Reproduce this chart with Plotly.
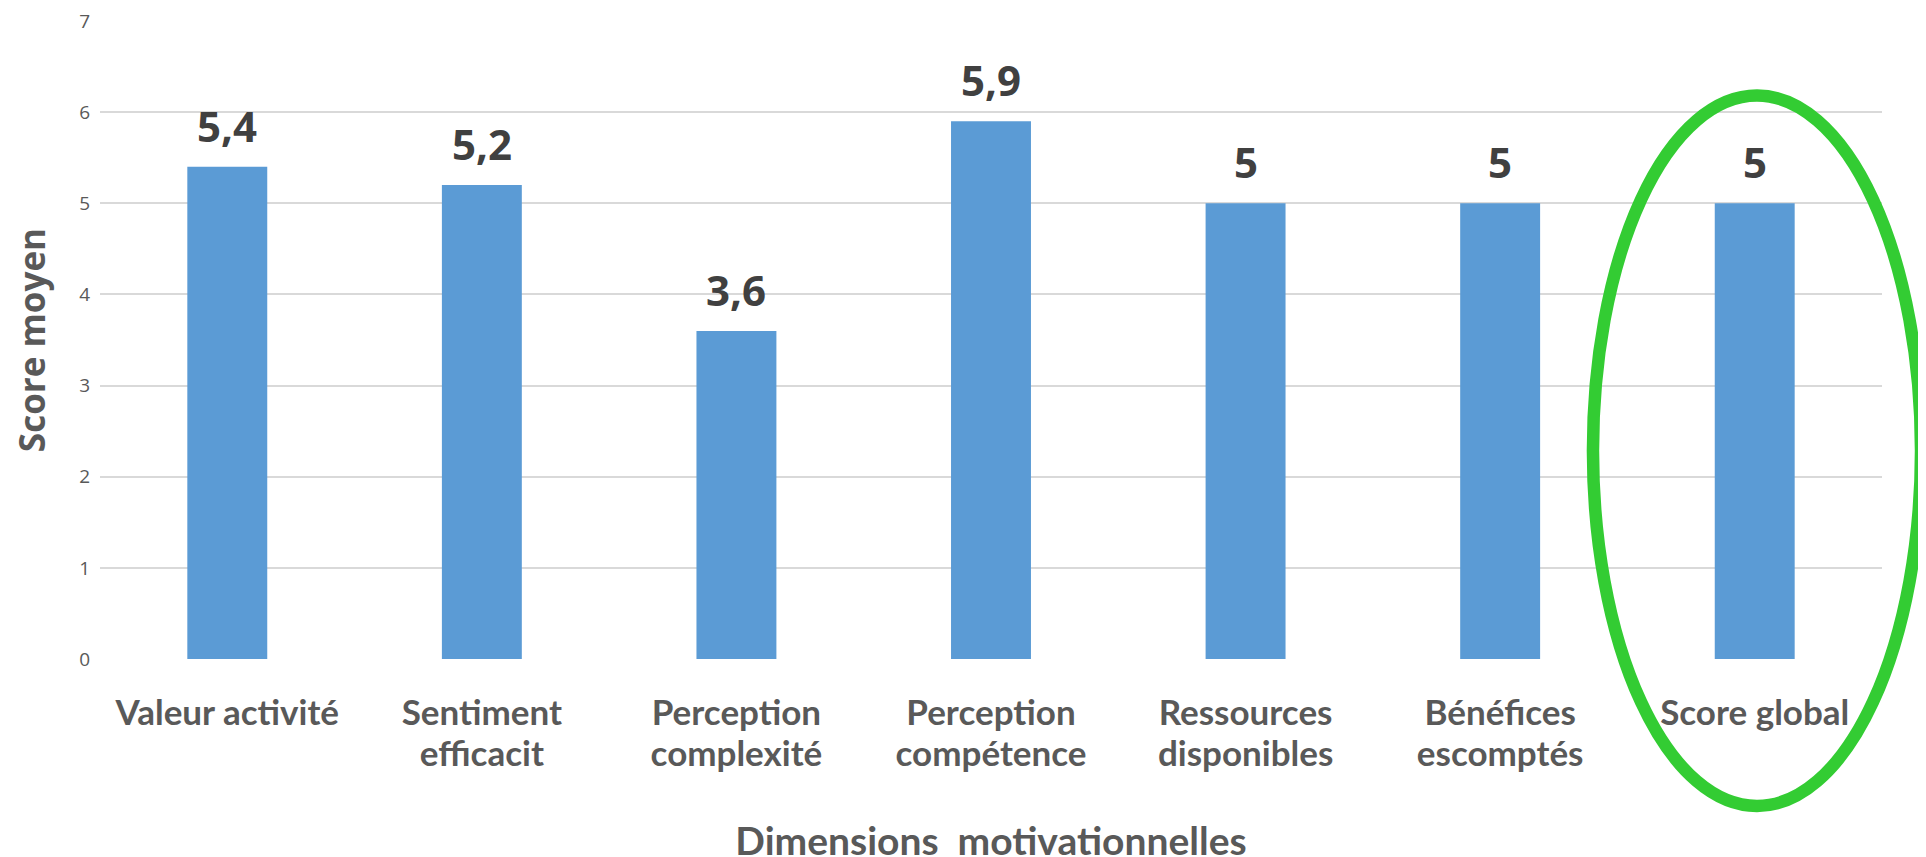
import plotly.graph_objects as go

categories = ["Valeur activité", "Sentiment efficacit", "Perception complexité",
              "Perception compétence", "Ressources disponibles", "Bénéfices escomptés",
              "Score global"]
label_line1 = ["Valeur activité", "Sentiment", "Perception", "Perception",
               "Ressources", "Bénéfices", "Score global"]
label_line2 = ["", "efficacit", "complexité", "compétence", "disponibles",
               "escomptés", ""]
values = [5.4, 5.2, 3.6, 5.9, 5.0, 5.0, 5.0]
y_ticks = [0, 1, 2, 3, 4, 5, 6, 7]

BAR = "#5B9BD5"
GRID = "#D9D9D9"
TXT = "#595959"
LBL = "#404040"
GREEN = "#33CC33"

idx = list(range(len(categories)))

fig = go.Figure()
fig.add_trace(go.Bar(x=idx, y=values, marker=dict(color=BAR, line=dict(width=0)),
                     hoverinfo="skip", showlegend=False))
fig.add_trace(go.Scatter(x=idx, y=values, mode="none", xaxis="x2",
                         hoverinfo="skip", showlegend=False))

annotations = []
for i, v in zip(idx, values):
    annotations.append(dict(
        x=i, y=v, xref="x", yref="y", text=f"{v:g}".replace(".", ","),
        showarrow=False, yanchor="bottom", yshift=11,
        font=dict(family="Open Sans", size=42, color=LBL, weight="bold")))

fig.update_layout(
    width=1918, height=857,
    margin=dict(l=92, r=44, t=13, b=206, autoexpand=False),
    paper_bgcolor="white", plot_bgcolor="white",
    bargap=0.686,
    annotations=annotations,
    xaxis=dict(type="linear", range=[-0.5, 6.5], tickmode="array", tickvals=idx,
               ticktext=label_line1, showgrid=False, zeroline=False, showline=False,
               ticks="", ticklabelstandoff=30, automargin=False,
               tickfont=dict(family="Lato", size=35, color=TXT, weight="bold"),
               title=dict(text="Dimensions  motivationnelles", standoff=96,
                          font=dict(family="Lato", size=39, color=TXT, weight="bold"))),
    xaxis2=dict(type="linear", range=[-0.5, 6.5], overlaying="x", anchor="y",
                side="bottom", tickmode="array", tickvals=idx, ticktext=label_line2,
                showgrid=False, zeroline=False, showline=False, ticks="",
                ticklabelstandoff=71, automargin=False,
                tickfont=dict(family="Lato", size=35, color=TXT, weight="bold")),
    yaxis=dict(range=[0, 7], tickmode="array", tickvals=y_ticks,
               showgrid=True, gridcolor=GRID, gridwidth=2, zeroline=False,
               showline=False, ticks="", ticklabelstandoff=9, automargin=False,
               ticklabeloverflow="allow",
               tickfont=dict(family="Open Sans", size=19, color=TXT),
               title=dict(text="Score moyen", standoff=27,
                          font=dict(family="Open Sans", size=35, color=TXT, weight="bold"))),
    shapes=[dict(type="circle", xref="paper", yref="paper",
                 x0=0.8378, x1=1.0219, y0=-0.2304, y1=0.8832,
                 line=dict(color=GREEN, width=12.5), layer="above")],
)

fig.write_html("out.html")
